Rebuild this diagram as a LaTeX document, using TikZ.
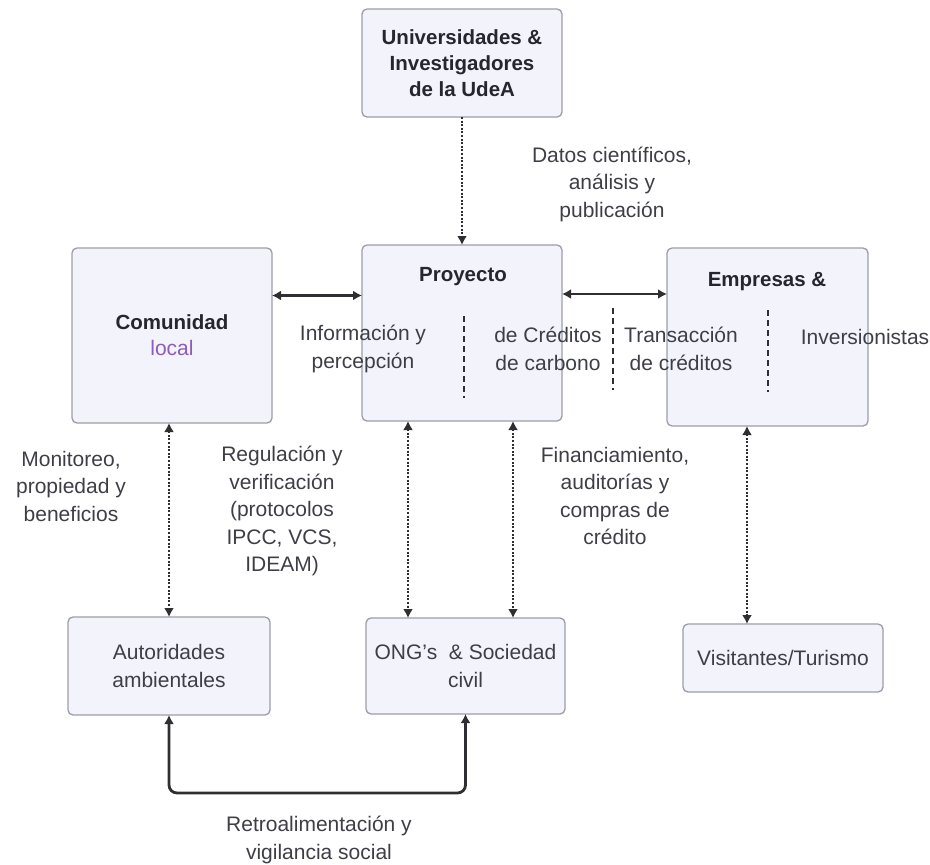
\documentclass[tikz,border=0pt]{standalone}
\usepackage{fontspec}
\setmainfont{Liberation Sans}
\usetikzlibrary{math}
\usetikzlibrary{calc,positioning,arrows.meta}

\definecolor{boxfill}{HTML}{F3F3FC}
\definecolor{boxline}{HTML}{9D9DA8}
\definecolor{txt}{HTML}{3E3E46}
\definecolor{txtbold}{HTML}{26262E}
\definecolor{lineclr}{HTML}{2F2F33}
\definecolor{localclr}{HTML}{8C5CB8}

\tikzset{
  actor/.style={draw=boxline, fill=boxfill, line width=1.3pt, rounded corners=5pt,
    inner sep=0pt, outer sep=0pt},
  note/.style={align=center, text=txt, inner sep=0pt, font=\fontsize{21}{27.5}\selectfont},
  title/.style={align=center, text=txtbold, inner sep=0pt, font=\bfseries\fontsize{20.5}{26}\selectfont},
  tip/.style={-{Latex[length=9pt,width=10pt]}},
  flow/.style={draw=lineclr, line width=2.8pt, {Latex[length=9pt,width=10pt]}-{Latex[length=9pt,width=10pt]}},
  dotflow/.style={flow, line width=2.4pt, dash pattern=on 2pt off 1.6pt},
  divider/.style={draw=lineclr, line width=2.4pt, dash pattern=on 6pt off 4pt}
}

\begin{document}
\begin{tikzpicture}[x=1pt, y=-1pt]
	\tikzmath{
		\boxW = 200;
	}
	\useasboundingbox (0,0) rectangle (930,865);

	% actors
	\node[actor, minimum width=\boxW, minimum height=108] (univ) at (462,63) {};
	\node[actor, minimum width=\boxW, minimum height=175] (com) at (172,335.5) {};
	\node[actor, minimum width=\boxW, minimum height=176] (proy) at (462,333) {};
	\node[actor, minimum width=201, minimum height=178] (emp) at (767.5,337) {};
	\node[actor, minimum width=202, minimum height=98] (aut) at (169,666) {};
	\node[actor, minimum width=199, minimum height=96] (ong) at (465.5,666) {};
	\node[actor, minimum width=\boxW, minimum height=68] (vis) at (783,658) {};

	% texts inside the boxes
	\node[title] (univT) at (univ) {Universidades \&\\Investigadores\\de la UdeA};
	\node[title] (comT) at (com) {Comunidad\\{\mdseries\fontsize{21}{27.5}\selectfont\color{localclr}local}};
	\node[title] (proyT) at (463,277) {Proyecto};
	\node[title] (empT) at (767,282) {Empresas \&};
	\node[note] (autT) at (aut) {Autoridades\\ambientales};
	\node[note] (ongT) at (ong) {ONG’s\ \ \& Sociedad\\civil};
	\node[note] (visT) at (vis) {Visitantes/Turismo};

	\node[note] (info) at (363,349) {Información y\\percepción};
	\node[note] (cred) at (548,349) {de Créditos\\de carbono};
	\node[note] (trans) at (681,349) {Transacción\\de créditos};
	\node[note] (inv) at (865,337) {Inversionistas};

	\draw[divider] (464,316) -- (464,398);
	\draw[divider] (613,308) -- (613,390);
	\draw[divider] (768,310) -- (768,392);

	% links
	\draw[dotflow, arrows=-, tip] (univ.south) -- (proy.north);
	\draw[flow] ([yshift=40pt]com.east) -- ([yshift=40pt]com.east -| proy.west);
	\draw[flow] ([yshift=39pt]proy.east) -- ([yshift=39pt]proy.east -| emp.west);
	\draw[dotflow] (aut.north |- com.south) -- (aut.north);
	\draw[dotflow] ([xshift=-54pt]proy.south) -- ([xshift=-54pt]proy.south |- ong.north);
	\draw[dotflow] ([xshift=51pt]proy.south) -- ([xshift=51pt]proy.south |- ong.north);
	\draw[dotflow] ([xshift=-20.5pt]emp.south) -- ([xshift=-20.5pt]emp.south |- vis.north);
	\draw[flow, rounded corners=8pt] (aut.south) -- ++(0,78) -| (ong.south);

	% link labels
	\node[note] (datos) at (612,184) {Datos científicos,\\análisis y\\publicación};
	\node[note] (moni) at (71,486) {Monitoreo,\\propiedad y\\beneficios};
	\node[note] (regu) at (282,511) {Regulación y\\verificación\\(protocolos\\IPCC, VCS,\\IDEAM)};
	\node[note] (fina) at (615,496) {Financiamiento,\\auditorías y\\compras de\\crédito};
	\node[note] (retro) at (319,840) {Retroalimentación y\\vigilancia social};
   % \node[note] at (465,793) {};
\end{tikzpicture}
\end{document}
